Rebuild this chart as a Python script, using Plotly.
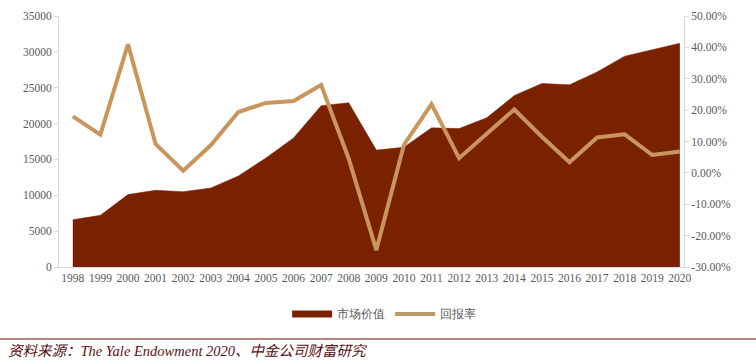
import plotly.graph_objects as go

years = list(range(1998, 2021))
market_value = [6600, 7200, 10100, 10700, 10500, 11000, 12700, 15200, 18000, 22500, 22900,
                16300, 16700, 19400, 19300, 20800, 23900, 25600, 25400, 27200, 29400, 30300, 31200]
return_rate = [18.0, 12.2, 41.0, 9.2, 0.7, 8.8, 19.4, 22.3, 22.9, 28.0, 4.5,
               -24.6, 8.9, 21.9, 4.7, 12.5, 20.2, 11.5, 3.4, 11.3, 12.3, 5.7, 6.8]
left_ticks = [0, 5000, 10000, 15000, 20000, 25000, 30000, 35000]
left_labels = [str(v) for v in left_ticks]
right_ticks = [-30, -20, -10, 0, 10, 20, 30, 40, 50]
right_labels = [f"{v:.2f}%" for v in right_ticks]

AREA = "#7A2200"
LINE = "#C9955C"
TXT = "#595959"
FONT = "Liberation Serif, Times New Roman, serif"

fig = go.Figure()
fig.add_trace(go.Scatter(x=years, y=market_value, mode="lines", fill="tozeroy",
                         fillcolor=AREA, line=dict(color=AREA, width=0.5),
                         showlegend=False, yaxis="y"))
fig.add_trace(go.Scatter(x=years, y=return_rate, mode="lines",
                         line=dict(color=LINE, width=4), showlegend=False, yaxis="y2"))
# legend entries
fig.add_trace(go.Scatter(x=[None], y=[None], mode="lines", name="市场价值",
                         line=dict(color=AREA, width=7)))
fig.add_trace(go.Scatter(x=[None], y=[None], mode="lines", name="回报率",
                         line=dict(color="#B89A68", width=4), yaxis="y2"))

fig.update_layout(
    width=756, height=364,
    margin=dict(l=59, r=72, t=16, b=97, autoexpand=False),
    paper_bgcolor="white", plot_bgcolor="white",
    font=dict(family=FONT, size=11, color=TXT),
    xaxis=dict(range=[1997.5, 2020.15], tickmode="array", tickvals=years,
               ticktext=[str(y) for y in years], showgrid=False, zeroline=False,
               showline=True, linecolor="#D9D9D9", linewidth=1, ticks="",
               automargin=False, tickfont=dict(size=11.5, color=TXT)),
    yaxis=dict(range=[0, 35000], tickmode="array", tickvals=left_ticks, ticktext=left_labels,
               showgrid=False, zeroline=False, automargin=False,
               showline=True, linecolor="#D9D9D9", linewidth=1,
               ticks="outside", ticklen=4, tickcolor="#D9D9D9",
               tickfont=dict(size=11.5, color=TXT)),
    yaxis2=dict(range=[-30, 50], overlaying="y", side="right", tickmode="array",
                tickvals=right_ticks, ticktext=right_labels, showgrid=False, zeroline=False,
                showline=True, linecolor="#D9D9D9", linewidth=1, automargin=False,
                ticks="outside", ticklen=4, tickcolor="#D9D9D9",
                tickfont=dict(size=11.5, color=TXT)),
    legend=dict(orientation="h", x=0.365, xanchor="left", y=-0.187, yanchor="middle",
                font=dict(size=11.5, color=TXT), itemwidth=40, bgcolor="rgba(0,0,0,0)"),
)

fig.add_shape(type="line", xref="paper", yref="paper", x0=-0.0944, x1=1.1152,
              y0=-0.2869, y1=-0.2869, line=dict(color="#5A0F14", width=1.2))
fig.add_annotation(xref="paper", yref="paper", x=-0.0850, y=-0.333, xanchor="left",
                   yanchor="middle", showarrow=False,
                   text="<i>资料来源：The Yale Endowment 2020、中金公司财富研究</i>",
                   font=dict(family="Liberation Serif, Noto Sans CJK SC, serif", size=14.5,
                             color="#5A0F14"))

fig.write_html("out.html", config={"displayModeBar": False},
               post_script="document.body.style.margin='0';document.body.style.overflow='hidden';")
